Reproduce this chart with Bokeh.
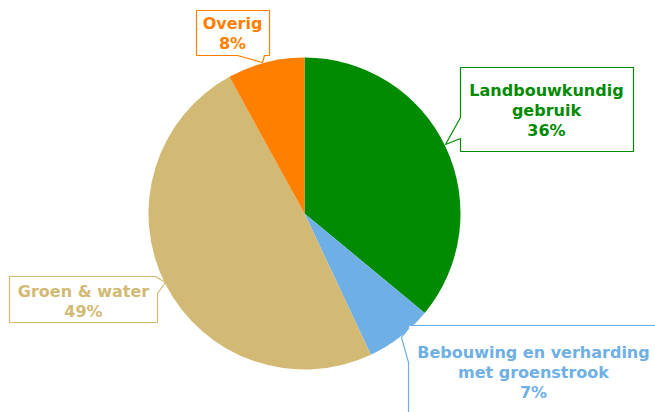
import math
from bokeh.plotting import figure
from bokeh.models import Range1d, ColumnDataSource
from bokeh.core.properties import value
from bokeh.embed import file_html
from bokeh.resources import INLINE

# ---- data ----
categories = ["Landbouwkundig\ngebruik", "Bebouwing en verharding\nmet groenstrook", "Groen & water", "Overig"]
percentages = [36, 7, 49, 8]
colors = ["#008B00", "#6EB0E6", "#D2B974", "#FF7F00"]

W, H = 655, 412
p = figure(width=W, height=H, output_backend="svg", toolbar_location=None,
           x_range=Range1d(0, W), y_range=Range1d(0, H),
           min_border=0, outline_line_color=None)
p.axis.visible = False
p.grid.visible = False
p.background_fill_color = "white"
p.border_fill_color = "white"

def Y(sy):
    return 412 - sy

# pie geometry (screen px)
cx, cy, r = 304, 213, 156
total = sum(percentages)
starts, ends = [], []
cum = 0
for v in percentages:
    starts.append(math.pi / 2 - 2 * math.pi * cum / total)
    cum += v
    ends.append(math.pi / 2 - 2 * math.pi * cum / total)

src = ColumnDataSource(dict(start=starts, end=ends, color=colors))
p.wedge(x=cx, y=Y(cy), radius=r, start_angle="start", end_angle="end",
        direction="clock", fill_color="color", line_color=None, source=src)

# callout boxes (screen coords polygons)
callouts = [
    # Landbouwkundig
    [(460, 67), (633, 67), (633, 151), (460, 151), (460, 138), (445, 144), (460, 117)],
    # Bebouwing
    [(408, 325), (700, 325), (700, 450), (408, 450), (408, 362), (401, 337), (408, 328)],
    # Groen & water
    [(9, 276), (155, 276), (165, 282), (157, 293), (157, 322), (9, 322)],
    # Overig
    [(196, 10), (269, 10), (269, 55), (264, 55), (262, 62), (237, 55), (196, 55)],
]
for poly, c in zip(callouts, colors):
    xs = [pt[0] for pt in poly]
    ys = [Y(pt[1]) for pt in poly]
    p.patch(xs, ys, fill_color="white", line_color=c, line_width=1.2)

# label positions (centre of text block, screen coords)
label_pos = [(546, 110), (533, 372), (83, 301), (232, 33)]
texts = [f"{c}\n{v}%" for c, v in zip(categories, percentages)]
tsrc = ColumnDataSource(dict(x=[q[0] for q in label_pos], y=[Y(q[1]) for q in label_pos],
                             text=texts, color=colors))
p.text(x="x", y="y", text="text", source=tsrc, text_color="color",
       text_font=value("DejaVu Sans"), text_font_style="bold", text_font_size="16px",
       text_align="center", text_baseline="middle", text_line_height=1.07)

open("out.html", "w").write(file_html(p, INLINE))
